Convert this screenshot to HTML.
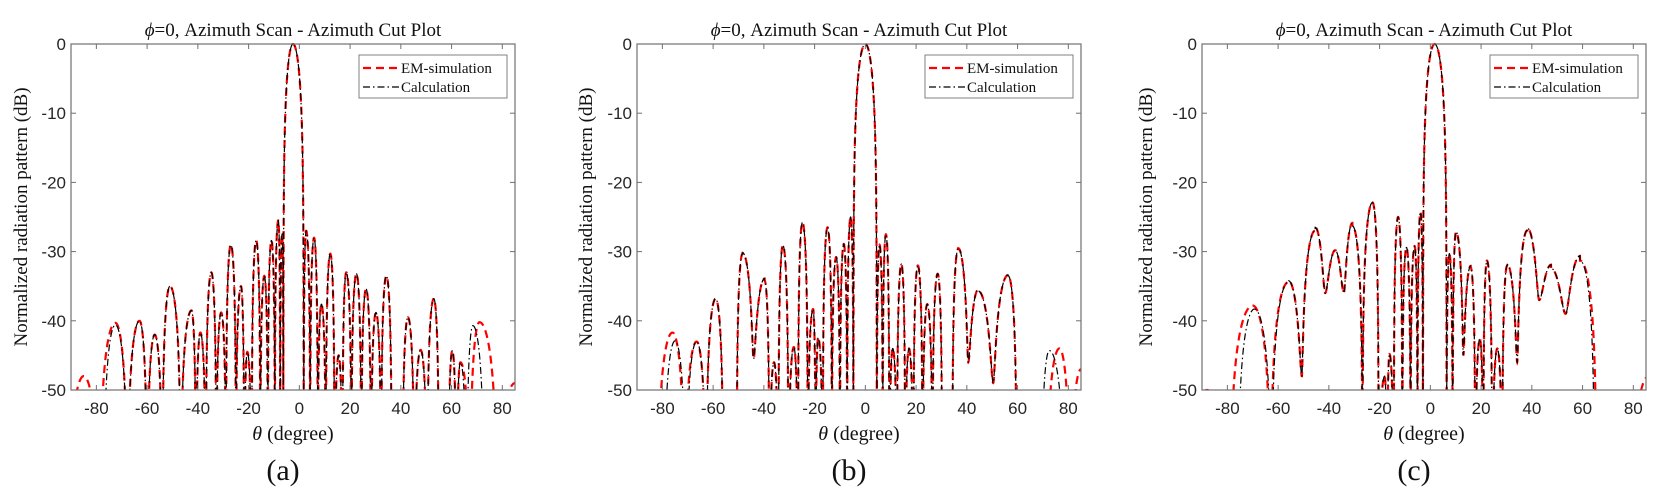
<!DOCTYPE html>
<html><head><meta charset="utf-8"><style>
html,body{margin:0;padding:0;background:#fff;}
svg{display:block;}
.tk{font-family:"Liberation Sans",Arial,sans-serif;font-size:17px;fill:#262626;}
.tm{font-family:"Liberation Serif","Times New Roman",serif;fill:#111;}
</style></head><body>
<svg id="s" width="1659" height="495" viewBox="0 0 1659 495" xmlns="http://www.w3.org/2000/svg"></svg>
<script>
const S=document.getElementById('s');
const NS='http://www.w3.org/2000/svg';
function el(t,a,txt){const e=document.createElementNS(NS,t);for(const k in a)e.setAttribute(k,a[k]);if(txt!==undefined)e.textContent=txt;S.appendChild(e);return e;}
function curve(peaks,mainNulls,shallow){
  peaks=peaks.slice().sort((a,b)=>a[0]-b[0]);
  const n=peaks.length;const nulls=[];
  for(let i=0;i<=n;i++){
    let p;
    if(i==0)p=peaks[0][0]-Math.max(4.5,(peaks[1][0]-peaks[0][0])/2);
    else if(i==n)p=peaks[n-1][0]+Math.max(4.5,(peaks[n-1][0]-peaks[n-2][0])/2);
    else p=(peaks[i-1][0]+peaks[i][0])/2;
    nulls.push({p:p,d:-90});
  }
  for(let i=0;i<n;i++){ if(peaks[i][1]===0){ nulls[i].p=mainNulls[0]; nulls[i+1].p=mainNulls[1]; } }
  for(let i=0;i<=n;i++){ if(i>0&&nulls[i].p<=nulls[i-1].p+0.3) nulls[i].p=nulls[i-1].p+0.3; }
  (shallow||[]).forEach(s=>{let bi=0,bd=1e9;nulls.forEach((q,j)=>{const d=Math.abs(q.p-s[0]);if(d<bd){bd=d;bi=j;}});nulls[bi].d=s[1];});
  const pts=[];
  for(let th=-90;th<=85.001;th+=0.04){
    let v=-120;
    for(let i=0;i<n;i++){
      const L=nulls[i].p,R=nulls[i+1].p;
      if(th<L||th>R)continue;
      let c=peaks[i][0];if(c<=L||c>=R)c=(L+R)/2;
      let t=th<c?0.5*(th-L)/(c-L):0.5+0.5*(th-c)/(R-c);
      let x=20*Math.log10(Math.max(Math.sin(Math.PI*t),1e-6))+peaks[i][1];
      const D=t<0.5?nulls[i].d:nulls[i+1].d;
      x=10*Math.log10(Math.pow(10,x/10)+Math.pow(10,D/10));
      v=Math.max(v,x);
    }
    pts.push([th,v]);
  }
  return pts;
}
const Y0=44,Y1=390;
function panel(ax,lab,ylx,common,emX,caX,mainNulls,shallow,emSh,caSh){
  const W=444,x0=ax,x1=ax+W;
  const X=d=>x0+(d+90)/175*W, Yp=v=>Y0+(-v)/50*(Y1-Y0);
  const cid='c'+lab;
  const cp=el('clipPath',{id:cid});const r=document.createElementNS(NS,'rect');
  r.setAttribute('x',x0);r.setAttribute('y',Y0-3);r.setAttribute('width',W);r.setAttribute('height',Y1-Y0+3);cp.appendChild(r);
  function draw(extra,sh,st){
    const pts=curve(common.concat(extra),mainNulls,shallow.concat(sh||[]));
    let d='';pts.forEach((p,i)=>{const v=Math.max(p[1],-52);d+=(i?'L':'M')+X(p[0]).toFixed(2)+' '+Yp(v).toFixed(2);});
    const a=Object.assign({d:d,fill:'none','clip-path':'url(#'+cid+')'},st);el('path',a);
  }
  draw(emX,emSh,{stroke:'#ff0000','stroke-width':2.2,'stroke-dasharray':'8,5'});
  draw(caX,caSh,{stroke:'#000','stroke-width':1.2,'stroke-dasharray':'7,3,1.5,3'});
  el('rect',{x:x0,y:Y0,width:W,height:Y1-Y0,fill:'none',stroke:'#707070','stroke-width':1.2});
  for(let d=-80;d<=80;d+=20){const x=X(d);
    el('line',{x1:x,y1:Y1,x2:x,y2:Y1-5,stroke:'#707070'});el('line',{x1:x,y1:Y0,x2:x,y2:Y0+5,stroke:'#707070'});
    el('text',{x:x,y:414,'text-anchor':'middle',class:'tk'},String(d));}
  for(let v=0;v>=-50;v-=10){const y=Yp(v);
    el('line',{x1:x0,y1:y,x2:x0+5,y2:y,stroke:'#707070'});el('line',{x1:x1,y1:y,x2:x1-5,y2:y,stroke:'#707070'});
    el('text',{x:x0-5,y:y+6,'text-anchor':'end',class:'tk'},String(v));}
  const cx=(x0+x1)/2;
  const t=el('text',{x:cx,y:36,'text-anchor':'middle',class:'tm','font-size':'19'});
  const ts=document.createElementNS(NS,'tspan');ts.setAttribute('font-style','italic');ts.textContent='ϕ';t.appendChild(ts);
  t.appendChild(document.createTextNode('=0, Azimuth Scan - Azimuth Cut Plot'));
  const xl=el('text',{x:cx,y:440,'text-anchor':'middle',class:'tm','font-size':'20'});
  const xs=document.createElementNS(NS,'tspan');xs.setAttribute('font-style','italic');xs.textContent='θ';xl.appendChild(xs);
  xl.appendChild(document.createTextNode(' (degree)'));
  el('text',{x:ylx,y:217,'text-anchor':'middle',class:'tm','font-size':'19',transform:'rotate(-90 '+ylx+' 217)'},'Normalized radiation pattern (dB)');
  el('text',{x:cx-10,y:480,'text-anchor':'middle',class:'tm','font-size':'30'},'('+lab+')');
  const lr=x1-8,lt=Y0+11,lw=148,lh=43,ll=lr-lw;
  el('rect',{x:ll,y:lt,width:lw,height:lh,fill:'#fff',stroke:'#808080','stroke-width':1});
  el('line',{x1:ll+4,y1:lt+13,x2:ll+40,y2:lt+13,stroke:'#f00','stroke-width':2.2,'stroke-dasharray':'8,5'});
  el('line',{x1:ll+4,y1:lt+32,x2:ll+40,y2:lt+32,stroke:'#000','stroke-width':1.2,'stroke-dasharray':'7,3,1.5,3'});
  el('text',{x:ll+42,y:lt+18,class:'tm','font-size':'15'},'EM-simulation');
  el('text',{x:ll+42,y:lt+37,class:'tm','font-size':'15'},'Calculation');
}
const A=[[-63,-40],[-57,-42],[-51,-35],[-42.5,-38.5],[-39,-41.7],[-34.7,-33],[-30.8,-38.8],[-27,-29],[-23,-35],[-20.5,-44.5],[-17,-28.4],[-13.8,-33.5],[-11,-28.4],[-8.3,-25.5],[-6.8,-27.5],[-2.5,0],[2.7,-27],[5.8,-28],[8.7,-37.6],[12.2,-30.3],[15.5,-45],[18.5,-33],[22.5,-33.2],[26.3,-35.4],[30.2,-38.8],[34.3,-33.5],[38.5,-50],[42.8,-39.5],[47.8,-44.2],[53,-36.8],[57,-52],[60.3,-44.3],[63.5,-46]];
panel(71,'a',27,A,[[-85,-48],[-72.5,-40.3],[71,-40.2],[85,-49]],[[-72.5,-40.6],[68.4,-40.7]],[-6.3,1.7],[],[],[]);
const B=[[-66.5,-43],[-59,-36.8],[-53,-55],[-48.4,-30.3],[-39.7,-34.2],[-36,-46],[-32.5,-29.1],[-28.2,-43.8],[-24.8,-25.8],[-20.6,-38.3],[-18.6,-42.4],[-14.9,-26.5],[-11.5,-30.8],[-8.5,-28.9],[-5.8,-25],[0,0],[5.6,-29],[8.1,-27.5],[10.8,-44],[14.2,-31.8],[17.2,-44],[20.7,-32],[24.4,-37.6],[28.5,-33.2],[32,-55],[36.6,-29.6],[44.5,-35.9],[56.3,-33.5],[63,-55],[66,-55]];
panel(637,'b',592,B,[[-88,-53],[-76,-41.7],[76.5,-44],[85,-47]],[[-75,-42.9],[72.5,-44.3],[85,-60]],[-4.7,4.5],[[-44,-45.5],[40.3,-46],[50.5,-49]],[],[]);
const C=[[-55.9,-34.4],[-45.4,-27],[-37.5,-31],[-30.7,-26.3],[-22.8,-22.9],[-18,-48],[-16.1,-44.8],[-12.7,-25],[-9.4,-29.4],[-6.2,-29.2],[-3.9,-24.3],[1.7,0],[7.5,-30.3],[10.1,-27.2],[15.9,-32.3],[19.5,-42.6],[22.3,-31.3],[26.4,-44],[30.3,-32],[38.2,-27],[47.6,-33.5],[59,-31.3]];
panel(1202,'c',1152,C,[[-88,-50],[-70,-37.8],[72,-52],[86,-48]],[[-69.3,-38.3]],[-2.9,6.4],[[-51,-48],[-41.5,-36],[-34.5,-36],[34.5,-46],[43.5,-37],[53.5,-39],[13.5,-45]],[],[]);
</script>
</body></html>
